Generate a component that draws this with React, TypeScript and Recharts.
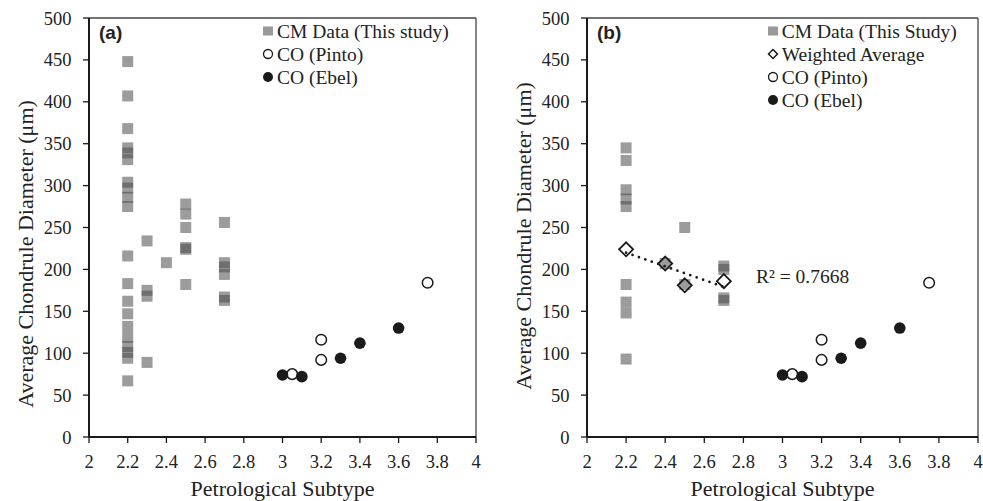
import { ScatterChart, Scatter, XAxis, YAxis, ReferenceLine, Legend } from 'recharts';

type Pt = { x: number; y: number };

const X_TICKS = [2, 2.2, 2.4, 2.6, 2.8, 3, 3.2, 3.4, 3.6, 3.8, 4];
const Y_TICKS = [0, 50, 100, 150, 200, 250, 300, 350, 400, 450, 500];

// CM chondrule diameters, panel (a)
const CM_A: Pt[] = [
  { x: 2.2, y: 448 }, { x: 2.2, y: 407 }, { x: 2.2, y: 368 },
  { x: 2.2, y: 345 }, { x: 2.2, y: 339 }, { x: 2.2, y: 331 },
  { x: 2.2, y: 304 }, { x: 2.2, y: 297 }, { x: 2.2, y: 286 }, { x: 2.2, y: 275 },
  { x: 2.2, y: 216 }, { x: 2.2, y: 183 }, { x: 2.2, y: 162 }, { x: 2.2, y: 147 },
  { x: 2.2, y: 132 }, { x: 2.2, y: 119 }, { x: 2.2, y: 108 }, { x: 2.2, y: 101 },
  { x: 2.2, y: 94 }, { x: 2.2, y: 67 },
  { x: 2.3, y: 234 }, { x: 2.3, y: 175 }, { x: 2.3, y: 168 }, { x: 2.3, y: 89 },
  { x: 2.4, y: 208 },
  { x: 2.5, y: 278 }, { x: 2.5, y: 266 }, { x: 2.5, y: 250 }, { x: 2.5, y: 226 },
  { x: 2.5, y: 224 }, { x: 2.5, y: 182 },
  { x: 2.7, y: 256 }, { x: 2.7, y: 208 }, { x: 2.7, y: 203 }, { x: 2.7, y: 194 },
  { x: 2.7, y: 167 }, { x: 2.7, y: 163 },
];

// CM chondrule diameters, panel (b)
const CM_B: Pt[] = [
  { x: 2.2, y: 345 }, { x: 2.2, y: 330 }, { x: 2.2, y: 295 }, { x: 2.2, y: 284 },
  { x: 2.2, y: 275 }, { x: 2.2, y: 182 }, { x: 2.2, y: 161 }, { x: 2.2, y: 148 },
  { x: 2.2, y: 93 },
  { x: 2.4, y: 207 },
  { x: 2.5, y: 250 }, { x: 2.5, y: 182 },
  { x: 2.7, y: 204 }, { x: 2.7, y: 200 }, { x: 2.7, y: 166 }, { x: 2.7, y: 163 },
];

const WEIGHTED_AVG: Pt[] = [
  { x: 2.2, y: 224 }, { x: 2.4, y: 207 }, { x: 2.5, y: 181 }, { x: 2.7, y: 186 },
];

const TREND: Pt[] = [{ x: 2.2, y: 220 }, { x: 2.7, y: 179 }];

const CO_PINTO: Pt[] = [
  { x: 3.05, y: 75 }, { x: 3.2, y: 92 }, { x: 3.2, y: 116 }, { x: 3.75, y: 184 },
];

const CO_EBEL: Pt[] = [
  { x: 3.0, y: 74 }, { x: 3.1, y: 72 }, { x: 3.3, y: 94 }, { x: 3.4, y: 112 }, { x: 3.6, y: 130 },
];

const SERIF = "'Liberation Serif', 'Times New Roman', serif";
const INK = '#1a1a1a';

const SquareDot = (p: any) => (
  <rect x={p.cx - 5.5} y={p.cy - 5.5} width={11} height={11} fill="#4a4a4a" fillOpacity={0.55} />
);
const OpenCircle = (p: any) => (
  <circle cx={p.cx} cy={p.cy} r={5.3} fill="#fff" stroke={INK} strokeWidth={1.5} />
);
const FilledCircle = (p: any) => <circle cx={p.cx} cy={p.cy} r={5.8} fill={INK} />;
const Diamond = (p: any) => (
  <path
    d={`M${p.cx},${p.cy - 7} L${p.cx + 7},${p.cy} L${p.cx},${p.cy + 7} L${p.cx - 7},${p.cy} Z`}
    fill="none"
    stroke={INK}
    strokeWidth={1.8}
  />
);
const NoDot = () => <g />;

type LegendKind = 'square' | 'diamond' | 'open' | 'filled';

function LegendMarker({ kind }: { kind: LegendKind }) {
  return (
    <svg width={12} height={12} style={{ flex: 'none' }}>
      {kind === 'square' && <rect x={1} y={1.5} width={10} height={9} fill="#999" />}
      {kind === 'diamond' && <path d="M6,1.5 L10.5,6 L6,10.5 L1.5,6 Z" fill="#fff" stroke={INK} strokeWidth={1.5} />}
      {kind === 'open' && <circle cx={6} cy={6} r={4.5} fill="#fff" stroke={INK} strokeWidth={1.3} />}
      {kind === 'filled' && <circle cx={6} cy={6} r={5} fill={INK} />}
    </svg>
  );
}

function LegendBox({ items }: { items: [LegendKind, string][] }) {
  return (
    <div style={{ fontFamily: SERIF, fontSize: 19.5, color: '#222' }}>
      {items.map(([kind, label]) => (
        <div key={label} style={{ display: 'flex', alignItems: 'center', height: 23, whiteSpace: 'nowrap' }}>
          <LegendMarker kind={kind} />
          <span style={{ marginLeft: 3, lineHeight: '23px' }}>{label}</span>
        </div>
      ))}
    </div>
  );
}

interface PanelProps {
  tag: string;
  cm: Pt[];
  withAverage: boolean;
  width: number;
  yAxisWidth: number;
  rightMargin: number;
  yTitleCenter: number;
  legendLeft: number;
  legendItems: [LegendKind, string][];
}

function Panel(props: PanelProps) {
  const { tag, cm, withAverage, width, yAxisWidth, rightMargin, yTitleCenter, legendLeft, legendItems } = props;

  const yTitle = (lp: any) => {
    const vb = lp.viewBox || {};
    const bx = (vb.x ?? 0) + (vb.width ?? yAxisWidth) - 56;
    const cy = yTitleCenter;
    return (
      <text x={bx} y={cy} transform={`rotate(-90 ${bx} ${cy})`} textAnchor="middle" style={{ fontFamily: SERIF }} fontSize={22} fill="#222">
        Average Chondrule Diameter (μm)
      </text>
    );
  };

  const xTitle = (lp: any) => {
    const vb = lp.viewBox || {};
    const cx = (vb.x ?? yAxisWidth) + (vb.width ?? width - yAxisWidth - rightMargin) / 2;
    const by = (vb.y ?? 437) + 59;
    return (
      <text x={cx} y={by} textAnchor="middle" style={{ fontFamily: SERIF }} fontSize={22} fill="#222">
        Petrological Subtype
      </text>
    );
  };

  const tickStyle = { fontSize: 18.5, fill: '#222', fontFamily: SERIF, style: { fontFamily: SERIF } };

  return (
    <div style={{ position: 'relative', width, height: 501, fontFamily: SERIF }}>
      <ScatterChart
        width={width}
        height={501}
        margin={{ top: 18, right: rightMargin, bottom: 0, left: 0 }}
        style={{ fontFamily: SERIF }}
      >
        <XAxis
          type="number"
          dataKey="x"
          domain={[2, 4]}
          ticks={X_TICKS}
          interval={0}
          height={64}
          tickSize={6}
          tickMargin={12}
          axisLine={{ stroke: INK, strokeWidth: 2 }}
          tickLine={{ stroke: INK, strokeWidth: 1.3 }}
          tick={tickStyle}
          label={{ content: xTitle }}
        />
        <YAxis
          type="number"
          dataKey="y"
          domain={[0, 500]}
          ticks={Y_TICKS}
          interval={0}
          width={yAxisWidth}
          tickSize={6}
          tickMargin={11.5}
          axisLine={{ stroke: INK, strokeWidth: 2 }}
          tickLine={{ stroke: INK, strokeWidth: 1.3 }}
          tick={tickStyle}
          label={{ content: yTitle }}
        />
        <ReferenceLine y={500} stroke="#444" strokeWidth={1.3} />
        <ReferenceLine x={4} stroke="#444" strokeWidth={1.3} />
        <Legend
          layout="vertical"
          align="center"
          verticalAlign="middle"
          wrapperStyle={{ top: 19.5, left: legendLeft, width: 230 }}
          content={() => <LegendBox items={legendItems} />}
        />
        <Scatter data={cm} shape={SquareDot} isAnimationActive={false} />
        <Scatter data={CO_PINTO} shape={OpenCircle} isAnimationActive={false} />
        <Scatter data={CO_EBEL} shape={FilledCircle} isAnimationActive={false} />
        {withAverage && (
          <Scatter
            data={TREND}
            shape={NoDot}
            line={{ stroke: INK, strokeWidth: 2.7, strokeDasharray: '0 6.8', strokeLinecap: 'round' }}
            isAnimationActive={false}
          />
        )}
        {withAverage && <Scatter data={WEIGHTED_AVG} shape={Diamond} isAnimationActive={false} />}
      </ScatterChart>
      <div
        style={{
          position: 'absolute',
          left: yAxisWidth + 10,
          top: 23,
          fontFamily: "'Liberation Sans', Arial, sans-serif",
          fontWeight: 'bold',
          fontSize: 19,
          lineHeight: '19px',
          color: '#222',
        }}
      >
        {tag}
      </div>
      {withAverage && (
        <div
          style={{
            position: 'absolute',
            left: 265,
            top: 267,
            fontFamily: SERIF,
            fontSize: 19.5,
            lineHeight: '19px',
            color: '#222',
            whiteSpace: 'nowrap',
          }}
        >
          R² = 0.7668
        </div>
      )}
    </div>
  );
}

export default function App() {
  return (
    <div style={{ position: 'absolute', left: 0, top: 0, width: 983, height: 501, background: '#fff', display: 'flex', fontFamily: SERIF }}>
      <Panel
        tag="(a)"
        cm={CM_A}
        withAverage={false}
        width={491}
        yAxisWidth={89}
        rightMargin={15}
        yTitleCenter={254}
        legendLeft={262}
        legendItems={[
          ['square', 'CM Data (This study)'],
          ['open', 'CO (Pinto)'],
          ['filled', 'CO (Ebel)'],
        ]}
      />
      <Panel
        tag="(b)"
        cm={CM_B}
        withAverage
        width={492}
        yAxisWidth={96}
        rightMargin={5}
        yTitleCenter={236}
        legendLeft={275.7}
        legendItems={[
          ['square', 'CM Data (This Study)'],
          ['diamond', 'Weighted Average'],
          ['open', 'CO (Pinto)'],
          ['filled', 'CO (Ebel)'],
        ]}
      />
    </div>
  );
}
